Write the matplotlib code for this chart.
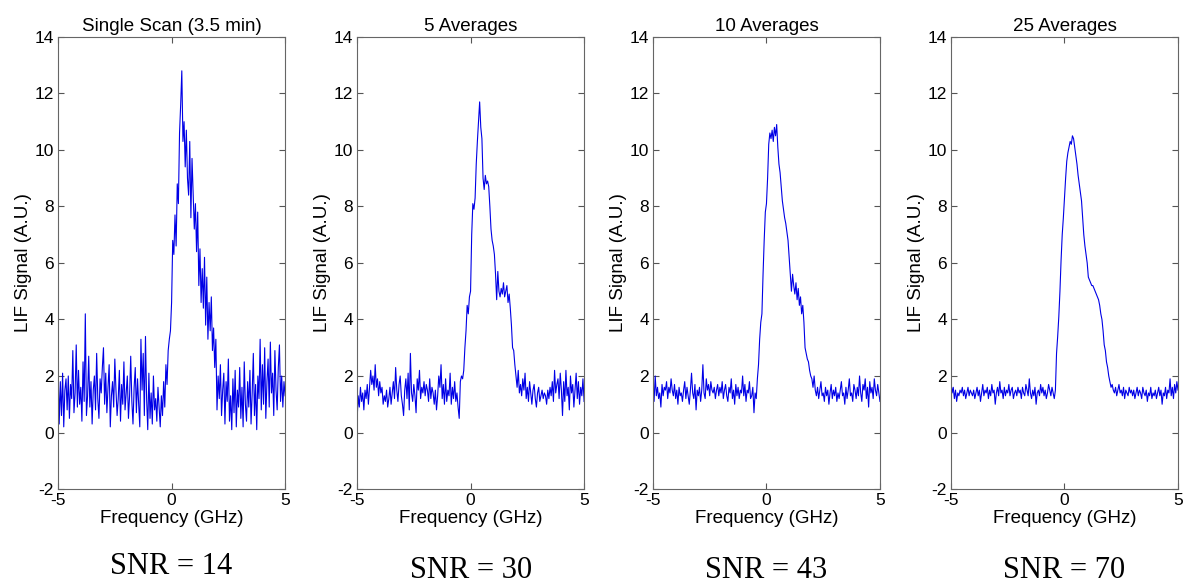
import numpy as np
import matplotlib.pyplot as plt

# frequency grid (GHz), 201 samples across the scan
freq = np.linspace(-5, 5, 201)

titles = ['Single Scan (3.5 min)', '5 Averages', '10 Averages', '25 Averages']
snr_labels = ['SNR = 14', 'SNR = 30', 'SNR = 43', 'SNR = 70']

single_scan = [
    2.4, 0.3, 1.8, 0.6, 2.1, 0.2, 1.5, 1.9, 0.8, 2.0, 0.5, 1.7, 1.2, 2.9, 0.7, 1.4, 3.1, 0.9, 2.2, 1.0,
    1.6, 0.4, 2.5, 1.1, 4.2, 0.6, 1.3, 2.7, 0.9, 1.8, 0.3, 1.5, 2.0, 0.8, 2.8, 1.2, 0.5, 1.9, 1.4, 2.3,
    3.0, 1.0, 2.1, 0.7, 1.6, 2.4, 0.2, 1.3, 1.8, 0.9, 2.6, 1.5, 0.6, 1.2, 2.2, 0.4, 1.7, 1.0, 2.5, 0.8,
    1.4, 2.0, 0.5, 1.3, 2.7, 1.1, 0.3, 1.6, 2.3, 0.7, 1.9, 1.0, 0.2, 3.3, 1.5, 2.8, 0.6, 3.4, 1.2, 0.1,
    2.1, 0.5, 1.4, 0.3, 2.0, 0.8, 1.2, 0.4, 1.6, 0.9, 0.2, 1.3, 0.6, 1.8, 0.9, 2.4, 1.7, 2.9, 3.3, 3.6,
    4.6, 6.8, 6.3, 7.7, 6.6, 8.8, 8.1, 10.6, 11.6, 12.8, 10.3, 11.0, 9.4, 10.7, 9.0, 8.4, 10.3, 7.6, 9.7, 8.5,
    7.2, 8.1, 6.4, 7.8, 5.2, 6.5, 4.6, 5.8, 4.4, 6.2, 3.8, 5.5, 3.3, 4.6, 3.6, 4.8, 2.9, 3.7, 2.3, 3.3,
    0.8, 2.0, 1.2, 2.4, 0.6, 1.5, 2.1, 0.3, 1.8, 1.1, 2.6, 0.4, 1.3, 0.1, 1.9, 0.7, 2.2, 0.2, 1.5, 0.9,
    2.3, 0.5, 1.6, 0.2, 2.5, 1.0, 0.4, 1.8, 0.9, 2.2, 0.3, 1.4, 2.8, 0.6, 1.7, 0.1, 2.0, 1.2, 3.3, 0.8,
    2.4, 1.0, 3.0, 0.5, 1.8, 2.6, 0.9, 3.2, 1.4, 2.1, 0.6, 2.9, 1.5, 0.8, 2.3, 3.1, 1.1, 2.0, 0.9, 1.8, 1.3,
]

avg_5 = [
    0.4, 1.3, 0.9, 1.6, 1.1, 1.4, 0.8, 1.5, 1.2, 1.7, 1.0, 1.6, 2.2, 1.7, 2.0, 1.5, 2.4, 1.6, 1.9, 1.3,
    1.8, 1.4, 1.6, 1.0, 1.3, 1.1, 1.5, 0.9, 1.2, 1.6, 1.0, 1.4, 1.8, 1.2, 2.3, 1.5, 1.1, 1.7, 2.0, 1.3,
    1.0, 0.6, 1.5, 1.9, 1.2, 2.1, 0.8, 2.8, 1.4, 1.1, 1.7, 1.3, 0.7, 1.9, 1.5, 2.2, 1.2, 1.6, 1.4, 1.8,
    1.3, 1.7, 1.5, 1.1, 1.9, 1.2, 1.6, 1.4, 1.0, 1.5, 0.8, 1.3, 2.0, 1.6, 2.4, 1.2, 1.7, 1.0, 1.9, 1.1,
    1.5, 1.3, 2.1, 1.0, 1.6, 1.2, 1.8, 1.1, 1.4, 0.9, 0.5, 1.8, 2.0, 1.9, 2.2, 3.0, 3.6, 4.5, 4.2, 4.8,
    5.0, 7.0, 8.1, 7.9, 8.3, 9.5, 10.3, 11.0, 11.7, 10.8, 10.4, 9.0, 8.6, 9.1, 8.8, 8.9, 8.7, 8.0, 7.2, 6.8,
    6.6, 6.3, 5.6, 4.7, 5.7, 5.0, 4.8, 5.1, 4.9, 5.3, 4.8, 5.0, 5.2, 4.6, 4.9, 4.4, 3.8, 3.0, 2.9, 2.4,
    2.0, 1.6, 2.2, 1.4, 1.7, 1.3, 1.9, 1.5, 2.1, 1.2, 1.6, 1.1, 1.8, 1.4, 1.0, 1.5, 1.7, 1.2, 0.9, 1.4,
    1.6, 1.1, 1.3, 1.5, 1.2, 1.4, 1.3, 1.0, 1.5, 1.2, 1.6, 1.3, 1.8, 1.1, 2.2, 1.4, 1.7, 1.9, 1.2, 2.1,
    1.5, 0.6, 1.8, 1.1, 2.2, 1.3, 1.6, 0.8, 2.0, 1.4, 1.7, 0.9, 1.5, 2.1, 1.2, 1.8, 1.0, 1.6, 1.3, 1.9, 1.1,
]

avg_10 = [
    1.5, 1.1, 2.0, 1.3, 1.6, 1.2, 1.4, 0.9, 1.7, 1.3, 1.6, 1.5, 1.8, 1.2, 1.6, 1.4, 1.9, 1.5, 1.3, 1.7,
    1.2, 1.5, 1.0, 1.6, 1.3, 1.4, 1.1, 1.5, 1.8, 1.2, 1.6, 1.3, 1.0, 1.5, 2.1, 1.4, 1.2, 1.7, 0.8, 1.5,
    1.3, 1.6, 1.1, 1.5, 2.4, 1.4, 1.2, 1.9, 1.5, 1.7, 1.3, 1.8, 1.5, 1.4, 1.6, 1.2, 1.5, 1.7, 1.3, 1.6,
    1.4, 1.8, 1.2, 1.5, 1.7, 1.3, 1.1, 1.6, 1.4, 1.9, 1.2, 1.5, 1.0, 1.7, 1.3, 1.6, 1.2, 1.5, 1.4, 2.0,
    1.3, 1.7, 1.1, 1.5, 1.4, 1.8, 1.2, 1.3, 1.6, 0.7, 1.4, 1.2, 1.9, 2.4, 3.3, 3.9, 4.2, 5.6, 6.8, 7.8,
    8.1, 9.0, 10.2, 10.6, 10.4, 10.7, 10.3, 10.8, 10.5, 10.9, 10.1, 9.5, 9.2, 8.7, 8.2, 7.9, 7.6, 7.4, 7.1, 6.8,
    6.2, 5.6, 5.0, 5.6, 5.2, 4.9, 5.3, 4.7, 5.1, 4.5, 4.8, 4.2, 4.5, 3.9, 3.0, 2.8, 2.6, 2.5, 2.2, 2.0,
    1.9, 1.6, 2.0, 1.5, 1.3, 1.6, 1.2, 1.5, 1.8, 1.3, 1.4, 1.1, 1.6, 1.3, 1.5, 1.0, 1.4, 1.7, 1.2, 1.5,
    1.3, 1.6, 1.1, 1.4, 1.2, 1.5, 1.8, 1.3, 1.4, 1.0, 1.6, 1.2, 1.5, 1.9, 1.3, 1.4, 1.1, 1.7, 1.5, 1.2,
    1.6, 1.3, 2.0, 1.4, 1.1, 1.7, 1.5, 1.9, 1.2, 1.6, 0.9, 1.8, 1.4, 1.6, 1.2, 1.9, 1.5, 1.3, 1.7, 1.4, 1.1,
]

avg_25 = [
    1.8, 1.4, 1.6, 1.2, 1.5, 1.1, 1.4, 1.3, 1.5, 1.4, 1.6, 1.3, 1.5, 1.2, 1.4, 1.6, 1.3, 1.5, 1.4, 1.3,
    1.5, 1.2, 1.4, 1.6, 1.3, 1.5, 1.1, 1.4, 1.7, 1.3, 1.5, 1.4, 1.6, 1.2, 1.5, 1.3, 1.7, 1.4, 1.5, 1.0,
    1.4, 1.6, 1.3, 1.8, 1.4, 1.5, 1.2, 1.6, 1.3, 1.5, 1.4, 1.7, 1.3, 1.5, 1.6, 1.2, 1.4, 1.5, 1.3, 1.6,
    1.4, 1.5, 1.2, 1.6, 1.4, 1.3, 1.7, 1.5, 1.3, 1.9, 1.4, 1.2, 1.5, 1.3, 1.6, 1.0, 1.4, 1.5, 1.3, 1.7,
    1.4, 1.6, 1.3, 1.5, 1.2, 1.4, 1.7, 1.5, 1.3, 1.6, 1.4, 1.2, 1.5, 2.8, 3.4, 4.1, 5.0, 6.1, 7.0, 7.6,
    8.3, 9.0, 9.6, 9.9, 10.1, 10.3, 10.2, 10.5, 10.4, 10.1, 9.8, 9.5, 9.1, 8.8, 8.5, 8.2, 7.6, 7.0, 6.6, 6.3,
    6.0, 5.5, 5.4, 5.3, 5.2, 5.2, 5.1, 5.0, 4.9, 4.8, 4.7, 4.5, 4.2, 4.0, 3.6, 3.1, 2.9, 2.5, 2.3, 2.0,
    1.8, 1.6, 1.7, 1.5, 1.4, 1.6, 1.3, 1.5, 1.7, 1.4, 1.5, 1.3, 1.6, 1.2, 1.5, 1.4, 1.3, 1.6, 1.4, 1.5,
    1.3, 1.5, 1.2, 1.4, 1.6, 1.3, 1.5, 1.4, 1.2, 1.6, 1.4, 1.3, 1.5, 1.1, 1.4, 1.3, 1.6, 1.2, 1.4, 1.3,
    1.5, 1.2, 1.4, 1.6, 1.3, 1.5, 1.0, 1.4, 1.3, 1.6, 1.2, 1.5, 1.4, 1.9, 1.3, 1.6, 1.2, 1.7, 1.4, 1.8, 1.5,
]

traces = [single_scan, avg_5, avg_10, avg_25]

plt.rcParams['font.family'] = ['Liberation Sans', 'DejaVu Sans']
plt.rcParams['axes.unicode_minus'] = False

fig = plt.figure(figsize=(11.85, 5.86), dpi=100)
lefts = [0.049, 0.3013, 0.551, 0.8025]
snr_y = [0.034, 0.027, 0.027, 0.027]

for left, title, trace, snr, sy in zip(lefts, titles, traces, snr_labels, snr_y):
    ax = fig.add_axes([left, 0.1655, 0.1916, 0.7715])
    ax.plot(freq, trace, color='#0000e6', linewidth=0.8)
    ax.set_xlim(-5, 5)
    ax.set_ylim(-2, 14)
    ax.set_xticks([-5, 0, 5])
    ax.set_yticks(range(-2, 15, 2))
    ax.tick_params(direction='in', top=True, right=True, length=4, pad=3,
                   labelsize=12.5, colors='#555555', labelcolor='black')
    for s in ax.spines.values():
        s.set_color('#666666')
        s.set_linewidth(0.8)
    ax.set_title(title, fontsize=13.5, pad=4)
    ax.set_xlabel('Frequency (GHz)', fontsize=13.5, labelpad=1)
    ax.set_ylabel('LIF Signal (A.U.)', fontsize=13.5, labelpad=2)
    fig.text(left + 0.0958, sy, snr, ha='center', va='center',
             fontsize=22, family='Liberation Serif')

fig.savefig('out.png', dpi=100)
